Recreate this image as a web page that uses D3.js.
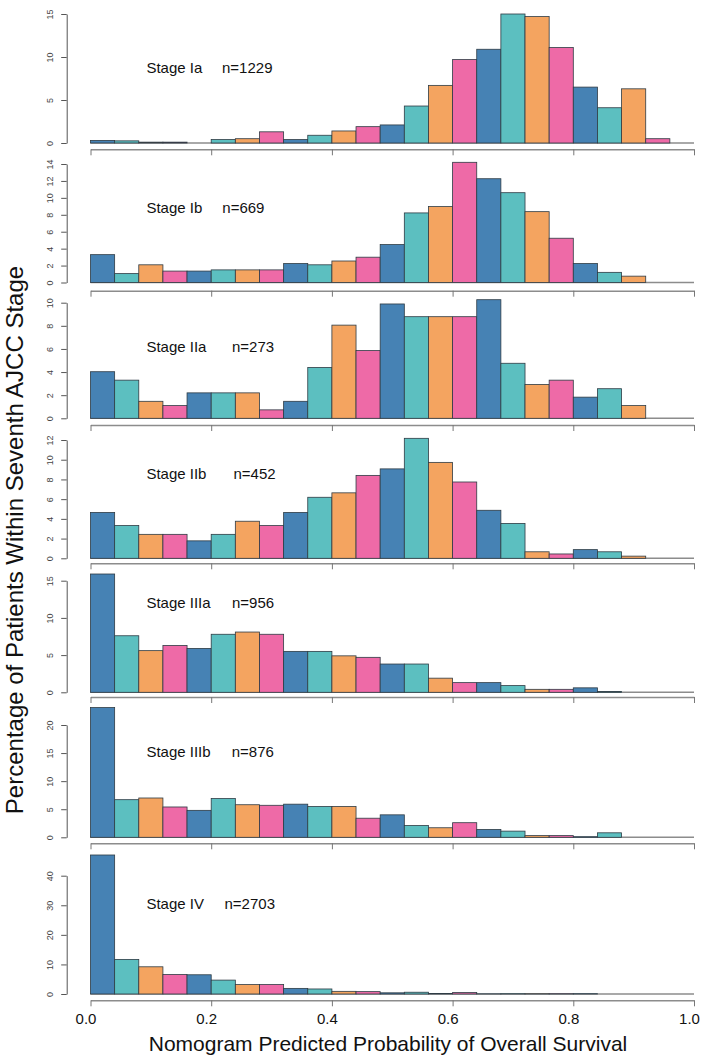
<!DOCTYPE html>
<html><head><meta charset="utf-8">
<script src="https://cdn.jsdelivr.net/npm/d3@7"></script>
<style>body{margin:0;background:#fff} svg{display:block}</style>
</head><body>
<svg id="c" width="702" height="1057"></svg>
<script>
// ---------- data ----------
const binStarts = [0,0.04,0.08,0.12,0.16,0.20,0.24,0.28,0.32,0.36,0.40,0.44,0.48,0.52,0.56,0.60,0.64,0.68,0.72,0.76,0.80,0.84,0.88,0.92,0.96];
const binWidth = 0.04;
const stageNames = ["Stage Ia","Stage Ib","Stage IIa","Stage IIb","Stage IIIa","Stage IIIb","Stage IV"];
const stageN = ["n=1229","n=669","n=273","n=452","n=956","n=876","n=2703"];
const pctIa   = [0.3,0.25,0.1,0.1,0,0.4,0.5,1.3,0.4,0.9,1.4,1.9,2.1,4.3,6.7,9.7,10.9,15.0,14.7,11.1,6.5,4.1,6.3,0.5,0];
const pctIb   = [3.29,1.05,2.09,1.35,1.35,1.49,1.49,1.49,2.24,2.09,2.54,2.99,4.48,8.22,8.97,14.2,12.26,10.61,8.37,5.23,2.24,1.2,0.75,0,0];
const pctIIa  = [4.03,3.30,1.47,1.10,2.20,2.20,2.20,0.73,1.47,4.40,8.06,5.86,9.89,8.79,8.79,8.79,10.26,4.76,2.93,3.30,1.83,2.56,1.10,0,0];
const pctIIb  = [4.65,3.32,2.43,2.43,1.77,2.43,3.76,3.32,4.65,6.19,6.64,8.41,9.07,12.17,9.73,7.74,4.87,3.54,0.66,0.44,0.88,0.66,0.22,0,0];
const pctIIIa = [15.9,7.6,5.6,6.3,5.9,7.8,8.1,7.8,5.5,5.5,4.9,4.7,3.8,3.8,1.9,1.3,1.3,0.9,0.4,0.4,0.6,0.1,0,0,0];
const pctIIIb = [23.1,6.7,7.0,5.4,4.8,6.9,5.8,5.7,5.9,5.5,5.5,3.4,4.0,2.1,1.7,2.6,1.4,1.1,0.3,0.3,0.1,0.8,0,0,0];
const pctIV   = [47.0,11.7,9.2,6.6,6.5,4.7,3.2,3.2,1.9,1.7,0.9,0.8,0.4,0.6,0.2,0.5,0.05,0.1,0.1,0.1,0.1,0,0,0,0];
const seriesList = [pctIa,pctIb,pctIIa,pctIIb,pctIIIa,pctIIIb,pctIV];
const yTickSets = [[0,5,10,15],[0,2,4,6,8,10,12,14],[0,2,4,6,8,10],[0,2,4,6,8,10,12],[0,5,10,15],[0,5,10,15,20],[0,10,20,30,40]];
const xTickValues = [0,0.2,0.4,0.6,0.8,1.0];
const xTickLabels = ["0.0","0.2","0.4","0.6","0.8","1.0"];
const xTitle = "Nomogram Predicted Probability of Overall Survival";
const yTitle = "Percentage of Patients Within Seventh AJCC Stage";

// ---------- layout / style ----------
const palette = ["#4682B4","#5CBFC0","#F4A460","#EE6AA7"];
const layout = [
  {base:143,   top:14,    axis:149.3,  textY:73,    nX:222},
  {base:282.5, top:164,   axis:290.7,  textY:213,   nX:222.3},
  {base:418.3, top:302.7, axis:425,    textY:352,   nX:232},
  {base:558.3, top:440,   axis:563.3,  textY:478.5, nX:233.5},
  {base:692.3, top:580.7, axis:697,    textY:608,   nX:232},
  {base:837.3, top:725,   axis:843.3,  textY:757,   nX:231.7},
  {base:994,   top:875.7, axis:1000.3, textY:908.5, nX:224.5}
];
const yAxisX = 66.7;
const svg = d3.select("#c");
const x = d3.scaleLinear().domain([0,1]).range([90.5,694]);

seriesList.forEach((vals, p) => {
  const L = layout[p];
  const ticks = yTickSets[p];
  const y = d3.scaleLinear().domain([0, ticks[ticks.length-1]]).range([L.base, L.top]);
  const g = svg.append("g");

  // baseline
  g.append("line").attr("x1", x(0)).attr("x2", x(1)).attr("y1", L.base).attr("y2", L.base)
    .attr("stroke","#8c8c8c").attr("stroke-width",1.6);

  // bars
  g.selectAll("rect.bar").data(vals.map((v,i)=>({v, b:binStarts[i], i})).filter(d=>d.v>0))
    .join("rect").attr("class","bar")
    .attr("x", d=>x(d.b)).attr("width", d=>x(d.b+binWidth)-x(d.b))
    .attr("y", d=>y(d.v)).attr("height", d=>L.base - y(d.v))
    .attr("fill", d=>palette[d.i%4])
    .attr("stroke","#2e3b44").attr("stroke-width",0.8);

  // y axis
  const ya = g.append("g").attr("transform",`translate(${yAxisX},0)`)
    .call(d3.axisLeft(y).tickValues(ticks).tickSize(5.5).tickSizeOuter(0));
  ya.select(".domain").attr("stroke","#555").attr("stroke-width",1);
  ya.selectAll(".tick line").attr("stroke","#555").attr("stroke-width",1);
  ya.selectAll(".tick text")
    .attr("x",0).attr("dy",null)
    .attr("transform","translate(-16.7,0) rotate(-90)")
    .attr("text-anchor","middle").attr("dominant-baseline","central")
    .attr("fill","#444").style("font-family","'Liberation Sans Narrow','Liberation Sans',sans-serif").style("font-size","9px");

  // x axis
  const xa = g.append("g").attr("transform",`translate(0,${L.axis})`)
    .call(d3.axisBottom(x).tickValues(xTickValues).tickSize(6).tickSizeOuter(0)
      .tickFormat((d,i)=> p===seriesList.length-1 ? xTickLabels[i] : ""));
  xa.select(".domain").attr("stroke","#8c8c8c").attr("stroke-width",1.6);
  xa.selectAll(".tick line").attr("stroke","#777").attr("stroke-width",1);
  xa.selectAll(".tick text").attr("y",23.7).attr("dy",null).attr("dx",-5)
    .attr("fill","#111").style("font-family","'Liberation Sans',Arial,sans-serif").style("font-size","15px");

  // labels
  g.append("text").attr("x",146.4).attr("y",L.textY).text(stageNames[p])
    .attr("fill","#111").style("font-family","'Liberation Sans',Arial,sans-serif").style("font-size","15px");
  g.append("text").attr("x",L.nX).attr("y",L.textY).text(stageN[p])
    .attr("fill","#111").style("font-family","'Liberation Sans',Arial,sans-serif").style("font-size","15px");
});

svg.append("text").attr("x",388).attr("y",1051).attr("text-anchor","middle").text(xTitle)
  .attr("fill","#111").style("font-family","'Liberation Sans',Arial,sans-serif").style("font-size","21px");
svg.append("text").attr("transform","translate(14,540) rotate(-90)").attr("text-anchor","middle")
  .attr("dominant-baseline","central").text(yTitle)
  .attr("fill","#111").style("font-family","'Liberation Sans',Arial,sans-serif").style("font-size","24px");
</script>
</body></html>
